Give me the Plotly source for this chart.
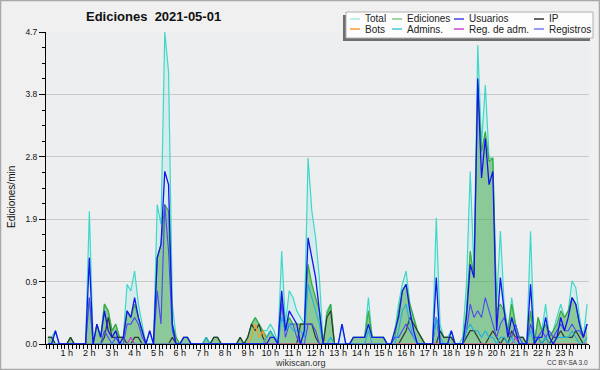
import plotly.graph_objects as go

# ---- data: 10-minute samples, edits per minute (144 values, one line per hour) ----
hour_labels = [f"{h} h" for h in range(1, 24)]
y_ticks = [0, 0.94, 1.88, 2.82, 3.76, 4.7]
y_ticktext = ["0.0", "0.9", "1.9", "2.8", "3.8", "4.7"]

total = [
    .1, .1, .2, 0, 0, 0,
    .1, 0, 0, 0, 0, 2.0,
    0, .3, .1, .6, .5, .2,
    .3, .1, .1, .9, .8, 1.1,
    .6, .3, 0, .2, 0, 2.1,
    1.8, 4.7, 4.1, .6, .1, 0,
    .1, .1, 0, 0, 0, 0,
    .1, 0, .1, .1, 0, 0,
    0, 0, 0, .1, 0, .1,
    .3, .4, .3, .2, .2, .3,
    .2, 0, 1.4, .3, .8, .7,
    .5, .4, .3, 2.8, 2.0, 1.6,
    1.0, 0, .5, .6, 0, 0,
    .3, 0, 0, .1, .1, .1,
    .1, .7, .1, .1, .1, .1,
    0, 0, .2, .6, .9, 1.1,
    .6, .4, .2, .1, 0, 0,
    0, 1.9, .3, .1, .1, .2,
    0, 0, .1, .9, 2.6, 1.1,
    4.5, 3.0, 3.9, 2.8, 2.8, .6,
    1.7, .6, .2, .7, .3, .1,
    .1, 0, 1.7, 0, .4, .2,
    .6, .1, .2, .4, .6, .4,
    .5, .95, .85, .4, .1, .6,
]
ediciones = [
    .1, .1, 0, 0, 0, 0,
    .1, 0, 0, 0, 0, .7,
    0, .3, .1, .6, .5, .2,
    .3, .1, .1, .5, .4, .6,
    .4, .2, 0, 0, 0, 1.3,
    1.5, 2.1, 2.0, .3, .1, 0,
    .1, .1, 0, 0, 0, 0,
    .1, 0, .1, .1, 0, 0,
    0, 0, 0, .1, 0, .1,
    .3, .4, .3, .2, .1, .2,
    .1, 0, .7, .2, .4, .3,
    .3, .3, .3, 1.2, .9, .7,
    .5, 0, .45, .6, 0, 0,
    0, 0, 0, .1, .1, .1,
    .1, .5, .1, .1, .1, .1,
    0, 0, .1, .5, .8, .9,
    .6, .4, .2, .1, 0, 0,
    0, .4, .2, .1, .1, .1,
    0, 0, 0, .5, 1.4, 1.0,
    3.9, 2.9, 3.2, 2.75, 2.8, .5,
    .6, .5, .2, .6, .3, .1,
    .1, 0, .5, 0, .4, .2,
    .3, .1, .2, .3, .5, .4,
    .5, .7, .6, .3, .1, .3,
]
usuarios = [
    0, 0, .2, 0, 0, 0,
    0, 0, 0, 0, 0, 1.3,
    0, .3, .1, .5, .2, .1,
    .2, 0, .1, .5, .4, .7,
    .4, .2, 0, .2, 0, 1.3,
    1.5, 2.6, 2.4, .3, 0, 0,
    .1, .1, 0, 0, 0, 0,
    0, 0, 0, 0, 0, 0,
    0, 0, 0, 0, 0, 0,
    0, 0, 0, 0, 0, .1,
    .1, 0, .8, .2, .5, .4,
    .3, 0, .2, 1.6, 1.3, 1.0,
    .5, 0, 0, 0, 0, 0,
    .3, 0, 0, .1, .1, .1,
    .1, .3, .1, .1, .1, .1,
    0, 0, .2, .4, .8, .9,
    .5, .2, 0, 0, 0, 0,
    0, 1.0, 0, 0, 0, .2,
    0, 0, 0, .4, 1.2, 1.0,
    4.0, 2.5, 3.1, 2.4, 2.6, .2,
    1.0, .5, .1, .4, .2, 0,
    0, 0, .9, 0, .1, .1,
    .4, .1, 0, .1, .4, .2,
    .4, .7, .6, .3, .1, .3,
]
ip = [
    .1, .1, 0, 0, 0, 0,
    .1, 0, 0, 0, 0, 0,
    0, 0, 0, .1, .4, .1,
    .1, .1, .1, 0, 0, .1,
    .1, 0, 0, 0, 0, 0,
    0, 0, 0, .1, 0, 0,
    0, 0, 0, 0, 0, 0,
    0, 0, .1, .1, 0, 0,
    0, 0, 0, .1, 0, .1,
    .3, .2, .3, .1, 0, 0,
    0, 0, 0, 0, 0, 0,
    0, .3, .3, .3, .3, .1,
    0, 0, .4, .5, 0, 0,
    0, 0, 0, 0, 0, 0,
    0, 0, 0, 0, 0, 0,
    0, 0, 0, 0, .1, .2,
    .4, .3, .2, .1, 0, 0,
    0, 0, .2, .1, .1, .1,
    0, 0, 0, .1, .2, .2,
    .1, 0, 0, .1, .2, .1,
    0, .1, 0, .2, .1, .1,
    .1, 0, 0, 0, .1, 0,
    .1, 0, .1, .1, .2, .1,
    .1, .1, .2, .1, 0, 0,
]
bots = [0] * 54 + [.1, .3, .1, .2] + [0] * 86
admins = [
    0, 0, 0, 0, 0, 0,
    0, 0, 0, 0, 0, 0,
    0, 0, 0, 0, 0, 0,
    0, 0, 0, 0, 0, 0,
    0, 0, 0, 0, 0, 0,
    0, 0, 0, 0, 0, 0,
    0, 0, 0, 0, 0, 0,
    .1, 0, 0, 0, 0, 0,
    0, 0, 0, 0, 0, 0,
    0, 0, 0, 0, .1, .2,
    .1, 0, .4, .2, .3, .2,
    .2, .2, .1, .9, .7, .5,
    .3, 0, 0, .1, 0, 0,
    0, 0, 0, 0, 0, 0,
    0, .2, 0, 0, 0, 0,
    0, 0, 0, .2, .5, .6,
    .3, .1, 0, 0, 0, 0,
    0, .4, .1, 0, 0, 0,
    0, 0, 0, .2, .3, .2,
    .2, .1, .2, .1, .1, 0,
    .1, .1, 0, .1, 0, 0,
    0, 0, .2, 0, .1, 0,
    .1, 0, 0, .1, .1, .1,
    .1, .2, .1, 0, 0, .1,
]
reg_adm = [0] * 22 + [.1] + [0] * 101 + [.1] + [0] * 19
registros = [
    0, 0, 0, 0, 0, 0,
    0, 0, 0, 0, 0, .7,
    0, 0, 0, .2, .1, 0,
    .1, 0, 0, .3, .3, .4,
    .3, .1, 0, 0, 0, .8,
    .3, 2.1, 1.4, .2, 0, 0,
    0, 0, 0, 0, 0, 0,
    0, 0, 0, 0, 0, 0,
    0, 0, 0, 0, 0, 0,
    0, 0, 0, 0, 0, 0,
    0, 0, .6, .1, .3, .3,
    .1, 0, 0, .3, .3, .2,
    0, 0, 0, 0, 0, 0,
    0, 0, 0, 0, 0, 0,
    0, 0, 0, 0, 0, 0,
    0, 0, .1, .1, .2, .3,
    .2, .1, 0, 0, 0, 0,
    0, .4, 0, 0, 0, 0,
    0, 0, 0, .2, .6, .4,
    .5, .4, .7, .5, .3, .1,
    .3, .4, .2, .1, .3, .1,
    0, 0, .3, .1, .1, .2,
    .1, .2, .1, .2, .3, .2,
    .2, .3, .2, .2, .1, .3,
]

hours = [(i + 0.5) / 6 for i in range(len(total))]

# ---- figure ----
FONT = "Liberation Sans, Arial, sans-serif"
fig = go.Figure()

def add(y, color, width=1.2, fill=None, fillcolor=None):
    fig.add_trace(go.Scatter(
        x=hours, y=y, mode="lines",
        line=dict(color=color, width=width),
        fill=fill, fillcolor=fillcolor,
        hoverinfo="skip", showlegend=False))

add(total, "#3ed8c8", 1.2, "tozeroy", "rgba(64,224,208,0.13)")
add(ediciones, "#3aaa3a", 1.2, "tozeroy", "rgba(50,160,50,0.45)")
add(ip, "#2f3a2f", 1.2)
add(bots, "#f5a020", 1.2)
add(reg_adm, "#c040c8", 1.2)
add(registros, "#4a4af5", 1.1)
add(admins, "#22b0e0", 1.1)
add(usuarios, "#1414ee", 1.3)

L, R, T, B = 46, 589, 32, 344
W, H = R - L, B - T

def px(x):
    return (x - L) / W

def py(y):
    return (B - y) / H

shapes = []
annotations = []

# outer frame
shapes.append(dict(type="rect", xref="paper", yref="paper",
                   x0=px(0.5), x1=px(599.5), y0=py(369.5), y1=py(0.5),
                   line=dict(color="#a8a8a8", width=1.5), layer="above"))

# legend box with shadow
shapes.append(dict(type="rect", xref="paper", yref="paper",
                   x0=px(343), x1=px(590), y0=py(41), y1=py(15),
                   fillcolor="#6e6e6e", line=dict(width=0), layer="above"))
shapes.append(dict(type="rect", xref="paper", yref="paper",
                   x0=px(346), x1=px(593), y0=py(38), y1=py(12),
                   fillcolor="#fdfdfd", line=dict(color="#b0b0b0", width=1), layer="above"))

legend_items = [
    (350, 19, "Total", "#a8e8e0"), (392, 19, "Ediciones", "#80c880"),
    (454, 19, "Usuarios", "#4040e0"), (534, 19, "IP", "#333333"),
    (350, 29, "Bots", "#ff9933"), (392, 29, "Admins.", "#40c8d8"),
    (454, 29, "Reg. de adm.", "#cc44cc"), (534, 29, "Registros", "#7777ee"),
]
for lx, ly, name, col in legend_items:
    shapes.append(dict(type="line", xref="paper", yref="paper",
                       x0=px(lx), x1=px(lx + 10), y0=py(ly), y1=py(ly),
                       line=dict(color=col, width=1.5), layer="above"))
    annotations.append(dict(xref="paper", yref="paper", x=px(lx + 13), y=py(ly),
                            text=name, showarrow=False, xanchor="left", yanchor="middle",
                            font=dict(family=FONT, size=10, color="#222")))

# title
annotations.append(dict(xref="paper", yref="paper", x=px(153.5), y=py(17),
                        text="<b>Ediciones  2021-05-01</b>", showarrow=False,
                        xanchor="center", yanchor="middle",
                        font=dict(family=FONT, size=13, color="#111")))
# y title
annotations.append(dict(xref="paper", yref="paper", x=px(11), y=py(197),
                        text="Ediciones/min", showarrow=False, textangle=-90,
                        xanchor="center", yanchor="middle",
                        font=dict(family=FONT, size=10, color="#111")))
# footer
annotations.append(dict(xref="paper", yref="paper", x=px(300), y=py(362.5),
                        text="wikiscan.org", showarrow=False,
                        xanchor="center", yanchor="middle",
                        font=dict(family=FONT, size=9, color="#333")))
annotations.append(dict(xref="paper", yref="paper", x=px(590), y=py(362.5),
                        text="CC BY-SA 3.0", showarrow=False,
                        xanchor="right", yanchor="middle",
                        font=dict(family=FONT, size=6.5, color="#333")))

fig.update_layout(
    width=600, height=370,
    margin=dict(l=L, r=600 - R, t=T, b=370 - B, pad=0),
    paper_bgcolor="#f0f0f0", plot_bgcolor="#edeef0",
    showlegend=False,
    shapes=shapes, annotations=annotations,
    font=dict(family=FONT, color="#111"),
    xaxis=dict(range=[0, 24], tickvals=list(range(1, 24)), ticktext=hour_labels,
               ticks="outside", ticklen=4, tickcolor="black", tickwidth=1,
               showline=True, linecolor="black", linewidth=1,
               showgrid=False, zeroline=False,
               tickfont=dict(family=FONT, size=9, color="#111"),
               ticklabelstandoff=-4, ticklabelshift=-2,
               minor=dict(dtick=1 / 6, tick0=0, ticks="outside", ticklen=4,
                          tickcolor="black", tickwidth=1, showgrid=False)),
    yaxis=dict(range=[0, 4.7], tickvals=y_ticks, ticktext=y_ticktext,
               ticks="outside", ticklen=6, tickcolor="black", tickwidth=1,
               showline=True, linecolor="black", linewidth=1,
               showgrid=True, gridcolor="#c9c9c9", gridwidth=1, zeroline=False,
               tickfont=dict(family=FONT, size=8.5, color="#111"),
               minor=dict(dtick=0.235, tick0=0, ticks="outside", ticklen=3,
                          tickcolor="black", tickwidth=1, showgrid=False)),
)

fig.write_html("out.html")
